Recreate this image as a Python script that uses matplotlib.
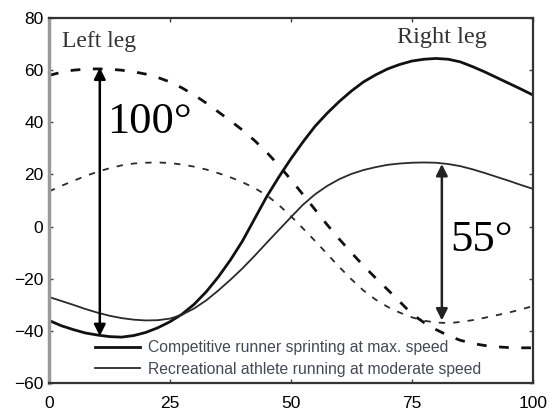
import matplotlib
matplotlib.use("Agg")
import matplotlib.pyplot as plt

# percent of stride cycle
x = [0, 2.5, 5, 7.5, 10, 12.5, 15, 17.5, 20, 22.5, 25, 27.5, 30, 32.5, 35, 37.5, 40,
     42.5, 45, 47.5, 50, 52.5, 55, 57.5, 60, 62.5, 65, 67.5, 70, 72.5, 75, 77.5, 80,
     82.5, 85, 87.5, 90, 92.5, 95, 97.5, 100]

# competitive runner (thick lines)
comp_right = [-36, -38, -39.5, -40.8, -41.6, -42.2, -42.4, -41.8, -40.6, -38.8, -36.5,
              -33.6, -29.8, -25, -19.3, -12.8, -5.5, 3, 11.5, 19, 26, 32.5, 38.5, 43.5,
              48, 52, 55.5, 58.2, 60.5, 62.2, 63.5, 64.2, 64.5, 64.2, 63.2, 61.4, 59.4,
              57.2, 55, 52.8, 50.5]
comp_left = [58, 59.2, 60, 60.4, 60.5, 60.4, 60, 59.4, 58.5, 57.2, 55.5, 53.2, 50.5,
             47.4, 44, 40.6, 37, 33, 28.5, 23.5, 18, 12.3, 6.5, 0.7, -4.8, -10, -15,
             -19.7, -24.2, -28.8, -33.5, -36.8, -39.5, -41.8, -43.6, -44.8, -45.6, -46.1,
             -46.4, -46.5, -46.5]

# recreational athlete (thin lines)
rec_right = [-27, -28.5, -30, -31.6, -33, -34.2, -35.1, -35.7, -36, -35.9, -35.3, -33.8,
             -31.4, -28.3, -24.5, -20.4, -16, -11.2, -6.2, -1.3, 3.6, 8.4, 12.4, 15.6,
             18.2, 20.2, 21.7, 22.8, 23.7, 24.2, 24.5, 24.6, 24.5, 24, 23.2, 22, 20.6,
             19.1, 17.6, 16, 14.5]
rec_left = [13.5, 15.6, 17.5, 19.4, 21, 22.4, 23.5, 24.2, 24.5, 24.6, 24.4, 23.8, 23,
            21.9, 20.5, 18.9, 17, 14.8, 12, 8.3, 4, -0.7, -5.5, -10.5, -15.5, -20.2,
            -24.5, -28, -30.8, -33, -34.8, -36.1, -36.8, -37, -36.6, -35.9, -35, -34,
            -33, -31.8, -30.5]

# range-of-motion arrows
arrow_x = [10.5, 81.2]
arrow_top = [61, 24]
arrow_bottom = [-42, -36]
arrow_labels = ["100°", "55°"]

labels = ["Competitive runner sprinting at max. speed",
          "Recreational athlete running at moderate speed"]

fig = plt.figure(figsize=(5.55, 4.19), dpi=100)
ax = fig.add_axes([0.0883, 0.0859, 0.8717, 0.871])

thick = dict(color="#111111", linewidth=2.0)
thin = dict(color="#2a2a2a", linewidth=1.3)

l1, = ax.plot(x, comp_right, **thick)
l2, = ax.plot(x, rec_right, **thin)
ax.plot(x, comp_left, linestyle=(0, (3.5, 4.5)), **thick)
ax.plot(x, rec_left, linestyle=(0, (3.5, 4.5)), **thin)

# arrows
for xa, top, bot, col in zip(arrow_x, arrow_top, arrow_bottom, ["#000000", "#222222"]):
    ax.annotate("", xy=(xa, bot), xytext=(xa, top),
                arrowprops=dict(arrowstyle="<|-|>", color=col, lw=1.8,
                                mutation_scale=17, shrinkA=0, shrinkB=0))

serif = ["Liberation Serif", "DejaVu Serif"]
ax.text(12, 40, arrow_labels[0], fontsize=32, family=serif, va="center", ha="left")
ax.text(82.9, -5, arrow_labels[1], fontsize=32, family=serif, va="center", ha="left")
ax.text(2.7, 71, "Left leg", fontsize=17, family=serif, va="center", ha="left", color="#333333")
ax.text(72, 72.5, "Right leg", fontsize=17.5, family=serif, va="center", ha="left", color="#333333")

ax.legend([l1, l2], labels, loc="lower left", bbox_to_anchor=(0.082, 0.0),
          borderaxespad=0, frameon=False, handlelength=2.85, handletextpad=0.5,
          labelspacing=0.4, prop=dict(family="Liberation Sans", size=11.3),
          labelcolor="#444a55")

ax.set_xlim(0, 100)
ax.set_ylim(-60, 80)
ax.set_xticks([0, 25, 50, 75, 100])
ax.set_yticks([-60, -40, -20, 0, 20, 40, 60, 80])
ax.tick_params(direction="in", length=3, width=1, top=True, right=True,
               labelsize=12.5, color="#444444")
ax.tick_params(axis="x", pad=9)
ax.tick_params(axis="y", pad=4)
for lab in ax.get_xticklabels() + ax.get_yticklabels():
    lab.set_family("Liberation Sans")
for s in ax.spines.values():
    s.set_color("#333333")
    s.set_linewidth(1.6)
ax.spines["left"].set_color("#999999")
ax.spines["left"].set_linewidth(2.5)

fig.savefig("out.png", dpi=100)
